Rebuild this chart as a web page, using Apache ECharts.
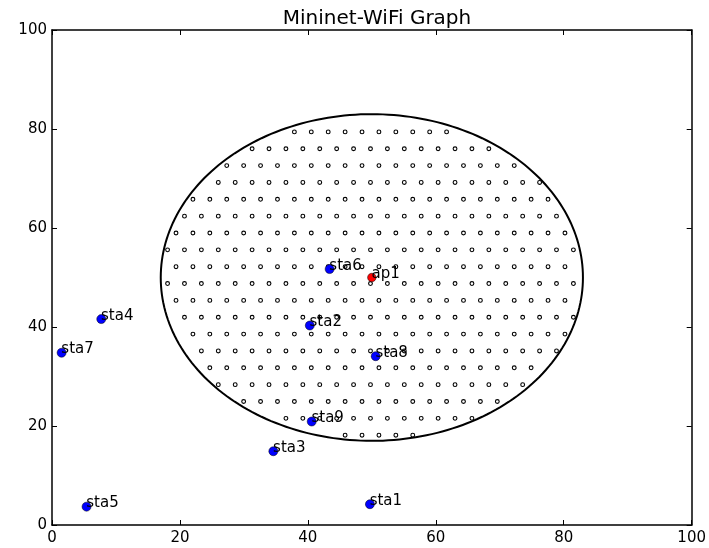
<!DOCTYPE html>
<html>
<head>
<meta charset="utf-8">
<script src="https://cdn.jsdelivr.net/npm/echarts@6/dist/echarts.min.js"></script>
<style>
html,body{margin:0;padding:0;background:#fff;}
#chart{width:709px;height:548px;}
</style>
</head>
<body>
<div id="chart"></div>
<script>
const titleText = 'Mininet-WiFi Graph';
const xTicks = [0, 20, 40, 60, 80, 100];
const yTicks = [0, 20, 40, 60, 80, 100];

const stationNames = ['sta1', 'sta2', 'sta3', 'sta4', 'sta5', 'sta6', 'sta7', 'sta8', 'sta9'];
const stationX = [49.7, 40.3, 34.6, 7.7, 5.4, 43.4, 1.5, 50.6, 40.6];
const stationY = [4.2, 40.3, 14.9, 41.6, 3.7, 51.7, 34.8, 34.1, 20.9];

const apNames = ['ap1'];
const apX = [50];
const apY = [50];
const apRange = [33];

const FONT = 'DejaVu Sans';

const stationData = stationNames.map((n, i) => ({ name: n, value: [stationX[i], stationY[i]] }));
const apData = apNames.map((n, i) => ({ name: n, value: [apX[i], apY[i]] }));
const rangeData = apNames.map((n, i) => [apX[i], apY[i], apRange[i]]);

function renderRange(params, api) {
  const cx0 = api.value(0), cy0 = api.value(1), r = api.value(2);
  const c = api.coord([cx0, cy0]);
  const s = api.size([r, r]);
  const rx = s[0], ry = s[1];
  const pts = [];
  const N = 240;
  for (let i = 0; i < N; i++) {
    const t = (i / N) * Math.PI * 2;
    pts.push(api.coord([cx0 + r * Math.cos(t), cy0 + r * Math.sin(t)]));
  }
  const cs = params.coordSys;
  const left = cs.x, bottom = cs.y + cs.height;
  const pitchX = 16.91, pitchY = 16.85;
  const offA = 14.1, offB = 5.645, offY = 5.55;
  const children = [];
  for (let j = 0; ; j++) {
    const py = bottom - offY - pitchY * j;
    if (py < cs.y) break;
    const off = (j % 2 === 0) ? offA : offB;
    for (let px = left + off; px < cs.x + cs.width; px += pitchX) {
      const ex = (px - c[0]) / (rx - 2.5), ey = (py - c[1]) / (ry - 2.5);
      if (ex * ex + ey * ey < 1) {
        children.push({
          type: 'circle',
          shape: { cx: px, cy: py, r: 1.9 },
          style: { fill: '#fff', stroke: '#000', lineWidth: 1.1 }
        });
      }
    }
  }
  children.push({
    type: 'polygon',
    shape: { points: pts },
    style: { fill: 'none', stroke: '#000', lineWidth: 2 }
  });
  return { type: 'group', children: children };
}

const chart = echarts.init(document.getElementById('chart'), null, { renderer: 'canvas' });

const axisCommon = {
  type: 'value', min: 0, max: 100, interval: 20,
  splitLine: { show: false },
  axisLine: { show: true, onZero: false, lineStyle: { color: '#000', width: 1.5 } },
  axisTick: { show: true, inside: true, length: 5, lineStyle: { color: '#000', width: 1 } }
};

chart.setOption({
  animation: false,
  backgroundColor: '#fff',
  title: {
    text: titleText, left: 372, top: 4, textAlign: 'center',
    textStyle: { fontFamily: FONT, fontSize: 20, fontWeight: 'normal', color: '#000' }
  },
  grid: { left: 52, right: 17, top: 30, bottom: 23, containLabel: false },
  xAxis: [
    Object.assign({}, axisCommon, {
      position: 'bottom',
      axisLabel: { fontFamily: FONT, fontSize: 15, color: '#000', margin: 6,
        formatter: v => xTicks.includes(v) ? String(v) : '' }
    }),
    Object.assign({}, axisCommon, { position: 'top', axisLabel: { show: false } })
  ],
  yAxis: [
    Object.assign({}, axisCommon, {
      position: 'left',
      axisLabel: { fontFamily: FONT, fontSize: 15, color: '#000', margin: 5,
        formatter: v => yTicks.includes(v) ? String(v) : '' }
    }),
    Object.assign({}, axisCommon, { position: 'right', axisLabel: { show: false } })
  ],
  series: [
    {
      type: 'custom',
      renderItem: renderRange,
      data: rangeData,
      silent: true,
      z: 1
    },
    {
      type: 'scatter',
      data: stationData,
      symbol: 'circle',
      symbolSize: 9,
      itemStyle: { color: '#0000ff', borderColor: '#000', borderWidth: 0.5, opacity: 1 },
      label: {
        show: true, formatter: '{b}', position: [4.5, 1.5], align: 'left', verticalAlign: 'middle',
        fontFamily: FONT, fontSize: 15, color: '#000'
      },
      z: 3
    },
    {
      type: 'scatter',
      data: apData,
      symbol: 'circle',
      symbolSize: 8.5,
      itemStyle: { color: '#ff0000', borderColor: '#000', borderWidth: 0.5, opacity: 1 },
      label: {
        show: true, formatter: '{b}', position: [4.25, 1.25], align: 'left', verticalAlign: 'middle',
        fontFamily: FONT, fontSize: 15, color: '#000'
      },
      z: 3
    }
  ]
});
</script>
</body>
</html>
